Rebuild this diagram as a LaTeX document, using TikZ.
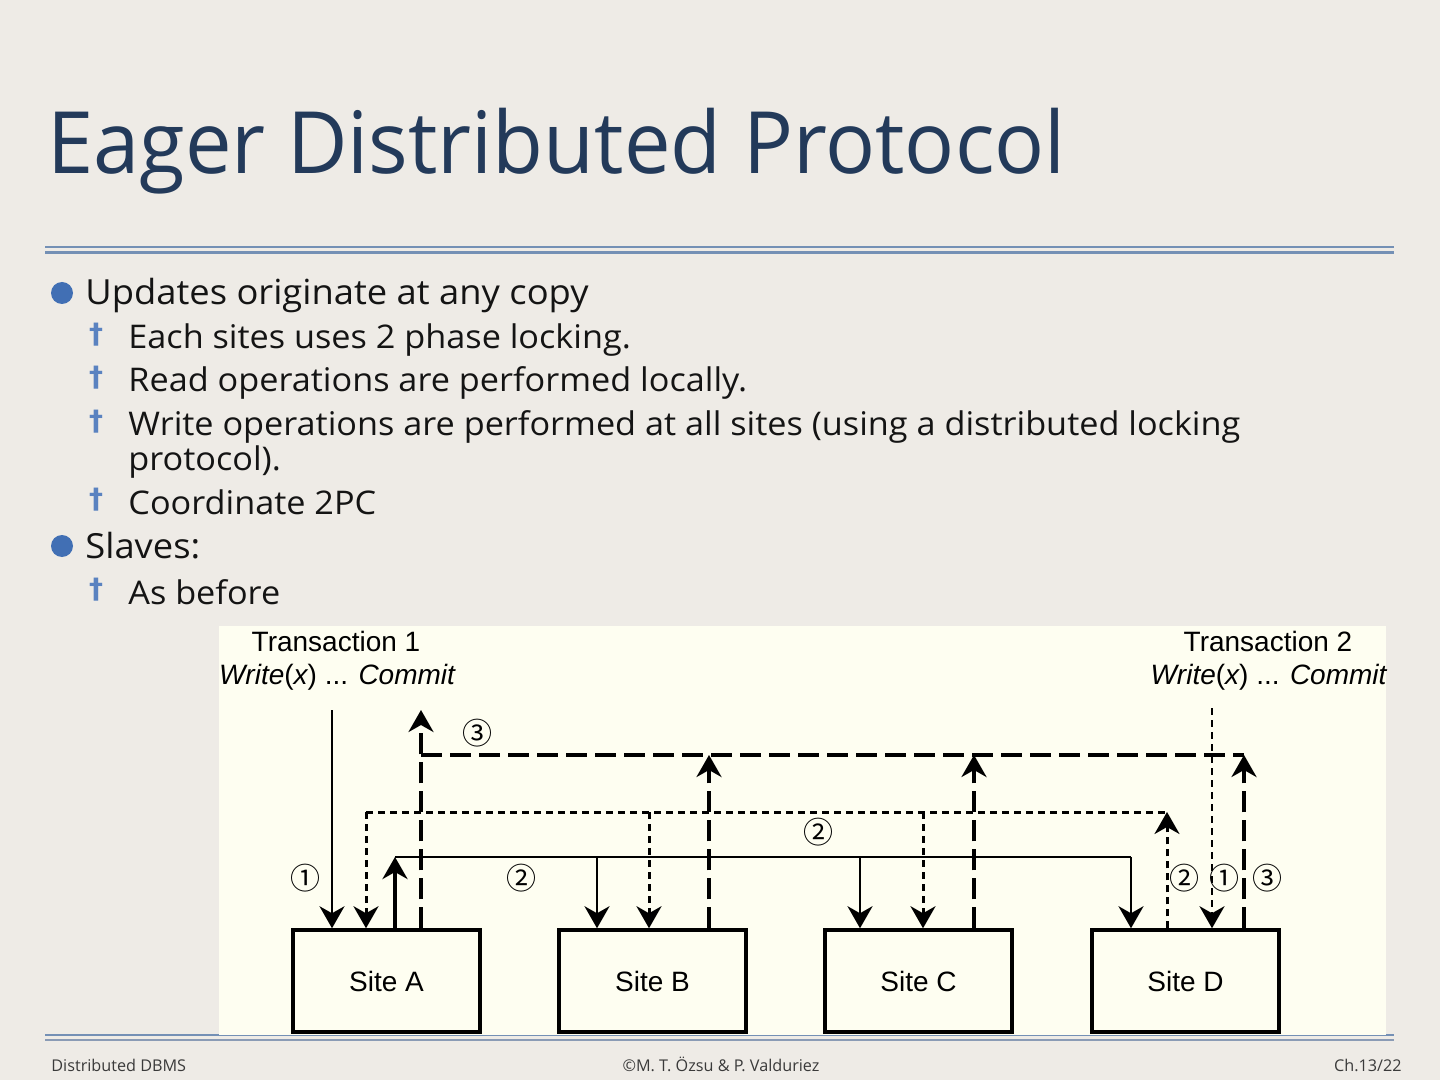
\documentclass[tikz,border=0pt]{standalone}
\usepackage{fontspec}
\setmainfont{Open Sans}
\newfontfamily\arialf{Liberation Sans}
\newfontfamily\djv{DejaVu Sans}
\newfontfamily\cjkf{Noto Sans CJK SC}
\usetikzlibrary{arrows.meta}
\definecolor{bgc}{HTML}{EEEBE6}
\definecolor{panelc}{HTML}{FEFEF1}
\definecolor{titlec}{HTML}{233A5A}
\definecolor{rulec}{HTML}{7490B5}
\definecolor{rulec2}{HTML}{8A9BB5}
\definecolor{bulletc}{HTML}{416FB4}
\definecolor{dagc}{HTML}{5A82C0}
\definecolor{textc}{HTML}{141414}
\definecolor{footc}{HTML}{3A3A3A}
\newcommand{\wideA}[1]{\scalebox{1.05}[1]{#1}}
\tikzset{
  lvlone/.style={anchor=base west, inner sep=0pt, text=textc, font=\fontsize{17.3}{20}\selectfont},
  lvltwo/.style={anchor=base west, inner sep=0pt, text=textc, font=\fontsize{16.3}{19}\selectfont},
  bulletdot/.style={circle, fill=bulletc, inner sep=0pt, minimum size=11pt},
  dagmark/.style={anchor=north, inner sep=0pt, text=dagc, font=\djv\bfseries\fontsize{14}{15}\selectfont},
  foott/.style={anchor=base, inner sep=0pt, text=footc, font=\fontsize{8.1}{9}\selectfont},
  site/.style={draw=black, line width=1.75pt, fill=panelc, minimum width=93.5pt, minimum height=51pt, inner sep=0pt, font=\arialf\fontsize{14}{16}\selectfont},
  dlabel/.style={inner sep=0pt, anchor=base, font=\arialf\fontsize{14}{16}\selectfont},
  circnum/.style={inner sep=0pt, font=\cjkf\fontsize{15}{16}\selectfont},
  tipdown/.style={-{Stealth[length=11pt,width=12.5pt,inset=3.5pt]}},
  solidln/.style={line width=1.35pt},
  thinln/.style={line width=1pt},
  thickln/.style={line width=2pt},
  dashln/.style={line width=1.75pt, dash pattern=on 10.5pt off 4pt},
  dotln/.style={line width=1.5pt, dash pattern=on 3.5pt off 2.5pt},
  dotthin/.style={line width=1.45pt, dash pattern=on 3.5pt off 2.5pt},
}
\begin{document}
\begin{tikzpicture}[x=0.5pt,y=-0.5pt]
\fill[bgc] (0,0) rectangle (1440,1080);
\useasboundingbox (0,0) rectangle (1440,1080);
% title
\node[anchor=base west, inner sep=0pt, text=titlec, font=\fontsize{43}{43}\selectfont] (title) at (47,174) {\scalebox{0.966}[1]{Eager Distributed Protocol}};
% rules
\draw[rulec, line width=0.75pt] (45,247) -- (1394,247);
\draw[rulec, line width=1.4pt] (45,252.5) -- (1394,252.5);
% bullets
\node[bulletdot] (b1) at (62,293) {};
\node[lvlone] (t1) at (85,305) {\wideA{Updates originate at any copy}};
\node[dagmark] (d1) at (96,323) {†};
\node[lvltwo] (t2) at (128,349) {\wideA{Each sites uses 2 phase locking.}};
\node[dagmark] (d2) at (96,366) {†};
\node[lvltwo] (t3) at (128,392) {\wideA{Read operations are performed locally.}};
\node[dagmark] (d3) at (96,410) {†};
\node[lvltwo] (t4) at (128,436) {\wideA{Write operations are performed at all sites (using a distributed locking}};
\node[lvltwo] (t4b) at (128,471) {\wideA{protocol).}};
\node[dagmark] (d4) at (96,488) {†};
\node[lvltwo] (t5) at (128,514) {\wideA{Coordinate 2PC}};
\node[bulletdot] (b2) at (62,546) {};
\node[lvlone] (t6) at (85,558) {\wideA{Slaves:}};
\node[dagmark] (d6) at (96,578) {†};
\node[lvltwo] (t7) at (128,604) {\wideA{As before}};
% footer rule behind panel
\draw[rulec, line width=1pt] (45,1035) -- (1394,1035);
% panel
\fill[panelc] (219,626) rectangle (1386,1035);
\draw[rulec2, line width=0.8pt] (45,1040) -- (1394,1040);
% footer
\node[foott, anchor=base west] (f1) at (51,1071) {Distributed DBMS};
\node[foott] (f2) at (721,1071) {©M. T. Özsu \& P. Valduriez};
\node[foott, anchor=base east] (f3) at (1402,1071) {Ch.13/22};
% sites
\node[site] (A) at (386.5,981) {Site A};
\node[site] (B) at (652.5,981) {Site B};
\node[site] (C) at (918.5,981) {Site C};
\node[site] (D) at (1185.5,981) {Site D};
% transaction labels
\node[dlabel] (tr1) at (336,651) {Transaction 1};
\node[dlabel] (wr1) at (337,684) {\itshape Write\upshape(\itshape x\upshape) ... \itshape Commit};
\node[dlabel] (tr2) at (1268,651) {Transaction 2};
\node[dlabel] (wr2) at (1268.5,684) {\itshape Write\upshape(\itshape x\upshape) ... \itshape Commit};
% coordinates
\coordinate (t1w) at (332,710);
\coordinate (t2w) at (1212,708);
\coordinate (dotL) at (366,812);
\coordinate (dotB) at (649,812);
\coordinate (dotC) at (923,812);
\coordinate (dotR) at (1167,812);
\coordinate (solL) at (395,857);
\coordinate (solB) at (597,857);
\coordinate (solC) at (860,857);
\coordinate (solR) at (1131,857);
\coordinate (dshL) at (421,755);
\coordinate (dshB) at (709,755);
\coordinate (dshC) at (974,755);
\coordinate (dshR) at (1244,755);
\coordinate (cmt1) at (421,710);
% 1: writes
\draw[thinln, tipdown] (t1w) -- (t1w |- A.north);
\draw[dotthin, tipdown] (t2w) -- (t2w |- D.north);
% 2: dotted network from D
\draw[dotln] (dotL) -- (dotR);
\draw[dotln, tipdown] (dotR |- D.north) -- (dotR);
\draw[dotln, tipdown] (dotL) -- (dotL |- A.north);
\draw[dotln, tipdown] (dotB) -- (dotB |- B.north);
\draw[dotln, tipdown] (dotC) -- (dotC |- C.north);
% 2: solid network from A
\draw[solidln] (solL) -- (solR);
\draw[thickln, tipdown] (solL |- A.north) -- (solL);
\draw[solidln, tipdown] (solB) -- (solB |- B.north);
\draw[solidln, tipdown] (solC) -- (solC |- C.north);
\draw[solidln, tipdown] (solR) -- (solR |- D.north);
% 3: dashed commit network
\draw[dashln] (dshL) -- (dshR);
\draw[dashln, tipdown] (dshL |- A.north) -- (cmt1);
\draw[dashln, tipdown] (dshB |- B.north) -- (dshB);
\draw[dashln, tipdown] (dshC |- C.north) -- (dshC);
\draw[dashln, tipdown] (dshR |- D.north) -- (dshR);
% circled numbers
\node[circnum] (n3a) at (477,733) {③};
\node[circnum] (n1a) at (305,878) {①};
\node[circnum] (n2a) at (521,878) {②};
\node[circnum] (n2b) at (818,832) {②};
\node[circnum] (n2d) at (1184,878) {②};
\node[circnum] (n1d) at (1224,878) {①};
\node[circnum] (n3d) at (1267,878) {③};
\end{tikzpicture}
\end{document}
